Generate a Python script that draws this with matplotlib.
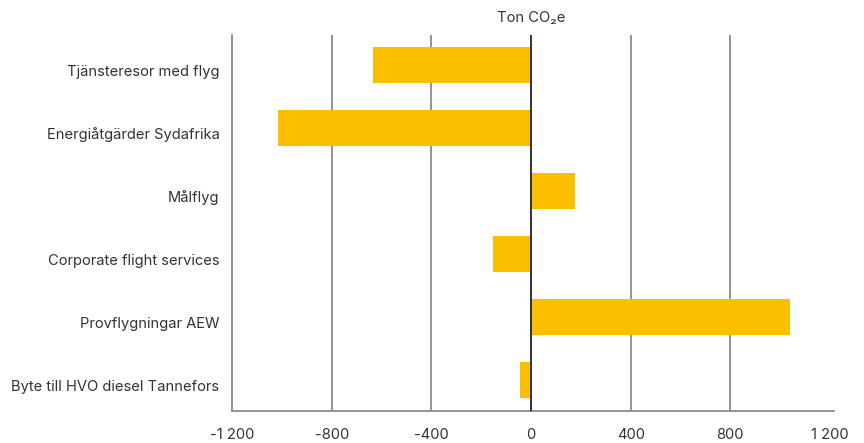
import matplotlib.pyplot as plt
import matplotlib.transforms as mtransforms
import numpy as np

plt.rcParams['font.family'] = ['Inter', 'DejaVu Sans']

categories = ['Tjänsteresor med flyg', 'Energiåtgärder Sydafrika', 'Målflyg',
              'Corporate flight services', 'Provflygningar AEW',
              'Byte till HVO diesel Tannefors']
values = [-635, -1017, 177, -153, 1041, -44]
ticks = [-1200, -800, -400, 0, 400, 800, 1200]
tick_labels = ['-1 200', '-800', '-400', '0', '400', '800', '1 200']

fig = plt.figure(figsize=(8.64, 4.43), dpi=100)
ax = fig.add_axes([232 / 864, 1 - 411 / 443, (834 - 232) / 864, (411 - 35) / 443])

y = np.arange(len(categories))
ax.barh(y, values, height=0.57, color='#FBBF00', zorder=2)

for t in [-800, -400, 400, 800]:
    ax.axvline(t, color='#8a8a8a', lw=1.3, zorder=1)
ax.axvline(0, color='#222222', lw=1.3, zorder=3)

ax.set_xlim(-1200, 1216)
ax.set_ylim(5.49, -0.47)
ax.set_xticks(ticks)
ax.set_xticklabels(tick_labels)
ax.set_yticks(y)
ax.set_yticklabels(categories)
ax.tick_params(axis='both', length=0, labelsize=10.6, colors='#333333')
ax.tick_params(axis='x', pad=12.5)
ax.tick_params(axis='y', pad=9)

# labels sit a bit below the bar centres in the original
shift = mtransforms.ScaledTranslation(0, -4 / 72, fig.dpi_scale_trans)
for lbl in ax.get_yticklabels():
    lbl.set_transform(lbl.get_transform() + shift)

for s in ['top', 'right']:
    ax.spines[s].set_visible(False)
ax.spines['left'].set_color('#8a8a8a')
ax.spines['bottom'].set_color('#8a8a8a')
ax.spines['left'].set_linewidth(1.3)
ax.spines['bottom'].set_linewidth(1.3)

fig.text(531 / 864, 1 - 18 / 443, 'Ton CO₂e', ha='center', va='center',
         fontsize=10.6, color='#333333')

fig.savefig('out.png', dpi=100)
